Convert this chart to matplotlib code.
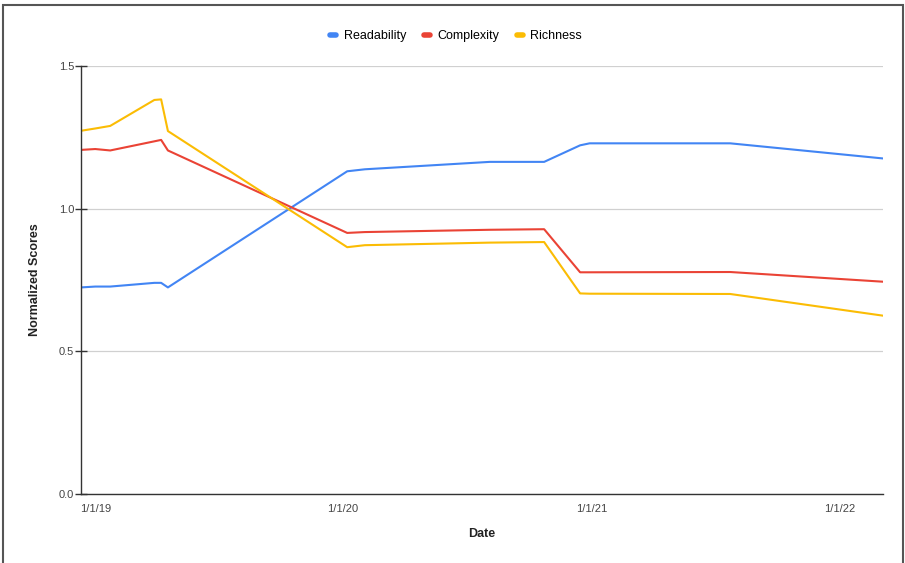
import pandas as pd
import matplotlib.pyplot as plt
import matplotlib.dates as mdates
from matplotlib.lines import Line2D
from matplotlib.patches import Rectangle

plt.rcParams['font.family'] = ['Liberation Sans', 'DejaVu Sans']

# Даты наблюдений
dates = pd.to_datetime([
    '2018-12-11', '2019-01-01', '2019-01-23', '2019-03-29', '2019-04-08',
    '2019-04-18', '2020-01-07', '2020-02-02', '2020-08-04', '2020-10-23',
    '2020-12-15', '2020-12-29', '2021-07-24', '2022-03-06',
])

# Нормализованные оценки
readability = [0.724, 0.727, 0.727, 0.740, 0.740, 0.724, 1.131, 1.138,
               1.164, 1.164, 1.222, 1.229, 1.229, 1.176]
complexity = [1.206, 1.209, 1.204, 1.236, 1.241, 1.204, 0.915, 0.918,
              0.926, 0.928, 0.777, 0.777, 0.778, 0.744]
richness = [1.273, 1.281, 1.290, 1.381, 1.383, 1.272, 0.865, 0.872,
            0.881, 0.883, 0.703, 0.702, 0.701, 0.625]

series = ['Readability', 'Complexity', 'Richness']
colors = ['#4285F4', '#EA4335', '#FBBC04']
yticks = [0.0, 0.5, 1.0, 1.5]

W, H = 905, 563
fig = plt.figure(figsize=(W / 100, H / 100), dpi=100)
ax = fig.add_axes([81 / W, 1 - 494 / H, (883 - 81) / W, (494 - 66) / H])

for values, name, color in zip([readability, complexity, richness], series, colors):
    ax.plot(dates, values, color=color, lw=1.5, label=name)

ax.set_xlim(dates[0], dates[-1])
ax.set_ylim(0, 1.5)
ax.set_yticks(yticks)
ax.set_yticklabels([f'{t:.1f}' for t in yticks])

ax.xaxis.set_major_locator(mdates.YearLocator())
ax.xaxis.set_major_formatter(mdates.DateFormatter('%-m/%-d/%y'))

# Сетка и оси
ax.grid(axis='y', color='#d0d0d0', lw=0.9)
ax.set_axisbelow(True)
for side in ['top', 'right']:
    ax.spines[side].set_visible(False)
ax.spines['left'].set_color('#333333')
ax.spines['bottom'].set_color('#333333')
ax.spines['left'].set_linewidth(1.0)
ax.spines['bottom'].set_linewidth(1.0)
ax.tick_params(axis='y', direction='inout', length=8, width=1, color='#333333',
               labelsize=8, labelcolor='#444444', pad=1)
ax.tick_params(axis='x', length=0, labelsize=8, labelcolor='#444444', pad=7)

ax.set_xlabel('Date', fontsize=9, fontweight='bold', color='#222222', labelpad=10)
ax.set_ylabel('Normalized Scores', fontsize=9, fontweight='bold', color='#222222', labelpad=13)

# Легенда сверху
handles = [Line2D([0], [0], color=c, lw=4, solid_capstyle='round') for c in colors]
fig.legend(handles, series, loc='center', bbox_to_anchor=(456 / W, 1 - 36 / H),
           ncol=3, frameon=False, fontsize=9, handlelength=0.5,
           handletextpad=0.6, columnspacing=1.4)

# Рамка вокруг рисунка
fig.patches.append(Rectangle((3 / W, -0.05), (903 - 3) / W, 1.05 - 5 / H,
                             transform=fig.transFigure, fill=False,
                             edgecolor='#555555', lw=1.5))

fig.savefig('out.png', dpi=100)
